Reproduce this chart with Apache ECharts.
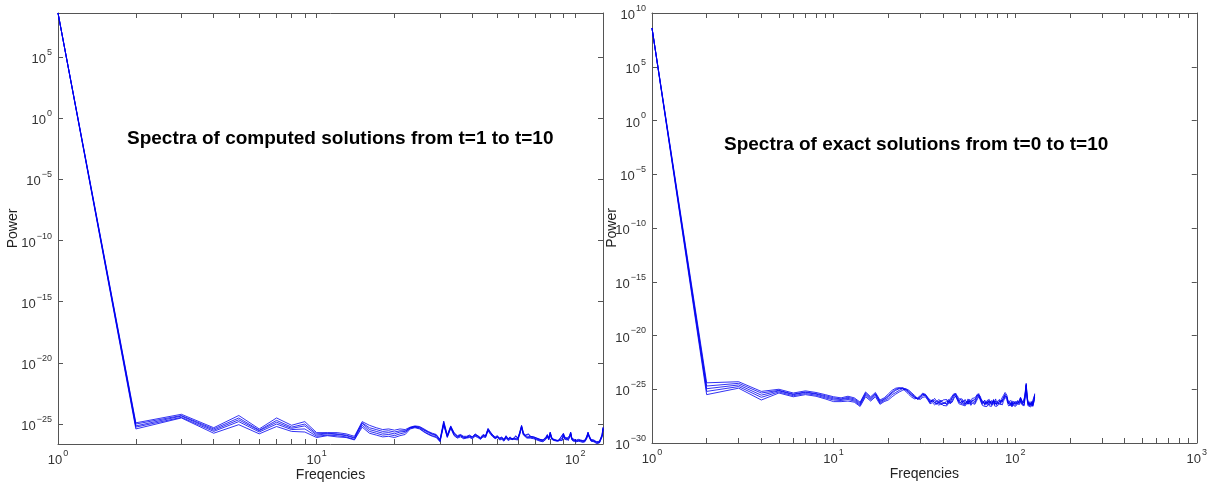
<!DOCTYPE html>
<html><head><meta charset="utf-8">
<script src="https://cdn.jsdelivr.net/npm/echarts@6/dist/echarts.min.js"></script>
<style>html,body{margin:0;padding:0;background:#fff}#c{width:1210px;height:487px}</style>
</head><body><div id="c"></div>
<script>
// Frequencies 1..128 (index of the spectrum)
const frequencies = Array.from({length: 128}, (_, i) => i + 1);

// Left panel: log10(Power) of computed solutions (a few of the t=1..10 curves)
const computedA = [
8.6, -24.9, -24.2, -25.3, -24.3, -25.4, -24.5, -25.1, -24.8, -25.7,
-25.7, -25.7, -25.8, -26.0, -24.8, -25.1, -25.3, -25.45, -25.4, -25.5,
-25.4, -25.45, -25.25, -25.15, -25.2, -25.4, -25.6, -25.75, -25.85, -26.25,
-24.75, -25.9, -25.15, -25.7, -25.95, -25.85, -26.0, -26.0, -25.9, -26.05,
-25.8, -25.95, -26.1, -25.85, -25.95, -25.35, -25.65, -25.9, -26.05, -25.95,
-26.15, -26.05, -26.25, -25.95, -26.2, -26.05, -26.25, -26.1, -25.95, -26.15,
-25.65, -25.1, -25.7, -25.9, -25.95, -25.8, -26.0, -25.95, -26.05, -25.9,
-26.15, -26.05, -26.25, -26.15, -26.3, -26.35, -26.05, -25.85, -26.15, -25.65,
-26.05, -26.25, -26.15, -26.3, -26.25, -26.35, -26.2, -26.05, -26.15, -25.75,
-26.05, -25.95, -26.15, -26.25, -25.95, -25.65, -26.15, -26.3, -26.25, -26.35,
-26.3, -26.4, -26.25, -26.35, -26.3, -26.25, -26.35, -26.4, -26.3, -26.15,
-25.95, -25.65, -25.9, -26.05, -26.25, -26.35, -26.4, -26.3, -26.35, -26.4,
-26.45, -26.35, -26.45, -26.4, -26.45, -26.35, -25.85, -25.25];
const computedB = [
8.6, -25.0, -24.3, -25.4, -24.5, -25.5, -24.7, -25.25, -25.0, -25.8,
-25.75, -25.8, -25.9, -26.1, -24.9, -25.3, -25.45, -25.6, -25.55, -25.65,
-25.55, -25.55, -25.3, -25.2, -25.25, -25.45, -25.65, -25.8, -25.9, -26.3,
-24.95, -26.0, -25.25, -25.75, -26.05, -25.95, -26.05, -26.1, -26.0, -26.05,
-25.9, -25.95, -26.2, -25.95, -25.95, -25.45, -25.75, -25.9, -26.15, -26.05,
-26.15, -26.15, -26.25, -26.05, -26.2, -26.15, -26.25, -26.2, -26.05, -26.15,
-25.75, -25.2, -25.8, -25.9, -26.05, -25.9, -26.0, -26.05, -26.05, -26.0,
-26.15, -26.15, -26.25, -26.25, -26.3, -26.35, -26.15, -25.95, -26.15, -25.75,
-26.15, -26.25, -26.25, -26.3, -26.35, -26.35, -26.3, -26.15, -26.15, -25.85,
-26.15, -26.05, -26.15, -26.35, -26.05, -25.75, -26.15, -26.4, -26.25, -26.35,
-26.4, -26.4, -26.35, -26.35, -26.4, -26.35, -26.35, -26.4, -26.4, -26.25,
-25.95, -25.75, -26.0, -26.05, -26.35, -26.35, -26.4, -26.4, -26.35, -26.5,
-26.45, -26.45, -26.45, -26.5, -26.45, -26.45, -25.95, -25.35];
const computedC = [
8.6, -25.15, -24.35, -25.5, -24.65, -25.55, -24.85, -25.35, -25.15, -25.9,
-25.8, -25.85, -25.95, -26.15, -24.95, -25.45, -25.6, -25.75, -25.7, -25.8,
-25.65, -25.6, -25.3, -25.2, -25.3, -25.5, -25.7, -25.85, -25.95, -26.35,
-24.85, -25.95, -25.2, -25.8, -26.0, -25.9, -26.1, -26.05, -25.95, -26.1,
-25.85, -26.0, -26.15, -25.9, -26.0, -25.4, -25.7, -25.95, -26.1, -26.0,
-26.2, -26.1, -26.3, -26.0, -26.25, -26.1, -26.3, -26.15, -26.0, -26.2,
-25.7, -25.15, -25.75, -25.95, -26.0, -25.85, -26.05, -26.0, -26.1, -25.95,
-26.2, -26.1, -26.3, -26.2, -26.35, -26.4, -26.1, -25.9, -26.2, -25.7,
-26.1, -26.3, -26.2, -26.35, -26.3, -26.4, -26.25, -26.1, -26.2, -25.8,
-26.1, -26.0, -26.2, -26.3, -26.0, -25.7, -26.2, -26.35, -26.3, -26.4,
-26.35, -26.45, -26.3, -26.4, -26.35, -26.3, -26.4, -26.45, -26.35, -26.2,
-26.0, -25.7, -25.95, -26.1, -26.3, -26.4, -26.45, -26.35, -26.4, -26.45,
-26.5, -26.4, -26.5, -26.45, -26.5, -26.4, -25.9, -25.3];
const computedD = [
8.6, -25.25, -24.45, -25.6, -24.8, -25.65, -25.0, -25.45, -25.4, -26.0,
-25.9, -25.95, -26.05, -26.25, -25.1, -25.6, -25.75, -25.9, -25.85, -25.95,
-25.8, -25.7, -25.35, -25.25, -25.35, -25.6, -25.8, -25.95, -26.05, -26.4,
-25.0, -26.05, -25.3, -25.9, -26.1, -25.95, -26.15, -26.1, -26.05, -26.15,
-25.95, -26.05, -26.2, -26.0, -26.05, -25.5, -25.75, -26.0, -26.15, -26.05,
-26.25, -26.2, -26.35, -26.1, -26.3, -26.2, -26.35, -26.2, -26.1, -26.25,
-25.8, -25.25, -25.85, -26.0, -26.1, -25.95, -26.1, -26.1, -26.15, -26.05,
-26.25, -26.2, -26.35, -26.3, -26.4, -26.45, -26.2, -26.0, -26.25, -25.8,
-26.2, -26.35, -26.3, -26.4, -26.35, -26.45, -26.3, -26.2, -26.3, -25.9,
-26.2, -26.1, -26.25, -26.35, -26.1, -25.8, -26.25, -26.4, -26.35, -26.45,
-26.4, -26.5, -26.35, -26.45, -26.4, -26.35, -26.45, -26.5, -26.4, -26.3,
-26.1, -25.8, -26.0, -26.15, -26.35, -26.45, -26.5, -26.4, -26.45, -26.5,
-26.55, -26.45, -26.55, -26.5, -26.55, -26.45, -26.0, -25.4];
const computedE = [
8.6, -25.4, -24.5, -25.75, -25.05, -25.8, -25.2, -25.6, -25.65, -26.1,
-25.95, -26.05, -26.1, -26.3, -25.25, -25.75, -25.9, -26.05, -26.0, -26.1,
-25.95, -25.85, -25.4, -25.3, -25.4, -25.65, -25.85, -26.0, -26.1, -26.45,
-25.1, -26.1, -25.35, -25.95, -26.15, -26.05, -26.2, -26.15, -26.1, -26.2,
-26.0, -26.1, -26.25, -26.05, -26.1, -25.55, -25.85, -26.05, -26.2, -26.1,
-26.3, -26.25, -26.4, -26.15, -26.35, -26.25, -26.4, -26.25, -26.15, -26.3,
-25.85, -25.3, -25.9, -26.05, -26.15, -26.0, -26.15, -26.15, -26.2, -26.1,
-26.3, -26.25, -26.4, -26.35, -26.45, -26.5, -26.25, -26.05, -26.3, -25.85,
-26.25, -26.4, -26.35, -26.45, -26.4, -26.5, -26.35, -26.25, -26.35, -25.95,
-26.25, -26.15, -26.3, -26.4, -26.15, -25.85, -26.3, -26.45, -26.4, -26.5,
-26.45, -26.55, -26.4, -26.5, -26.45, -26.4, -26.5, -26.55, -26.45, -26.35,
-26.15, -25.85, -26.05, -26.2, -26.4, -26.5, -26.55, -26.45, -26.5, -26.55,
-26.6, -26.5, -26.6, -26.55, -26.6, -26.5, -26.05, -25.45];

// Right panel: log10(Power) of exact solutions (a few of the t=0..10 curves)
const exactA = [
8.6, -24.4, -24.3, -25.2, -25.0, -25.35, -25.15, -25.3, -25.5, -25.7,
-25.8, -25.65, -25.8, -26.2, -25.25, -25.7, -25.3, -26.0, -25.8, -25.45,
-25.1, -24.9, -24.85, -24.95, -25.2, -25.5, -25.75, -25.9, -25.8, -25.6,
-25.35, -25.5, -25.75, -26.0, -26.1, -25.85, -26.15, -25.95, -26.2, -26.0,
-26.15, -25.95, -26.15, -25.85, -25.7, -25.4, -25.3, -25.6, -25.9, -26.05,
-25.9, -26.2, -25.95, -26.25, -25.9, -26.15, -26.05, -25.85, -26.0, -25.8,
-25.65, -25.45, -25.35, -25.6, -25.9, -26.0, -26.25, -26.0, -26.3, -26.05,
-26.2, -25.95, -26.3, -26.05, -26.25, -26.0, -26.2, -25.9, -26.2, -26.05,
-26.15, -25.95, -26.2, -25.9, -25.75, -25.6, -25.45, -25.3, -25.25, -25.55,
-25.95, -26.15, -26.0, -26.25, -26.05, -26.3, -26.1, -26.25, -26.05, -26.3,
-26.1, -26.3, -26.05, -26.25, -26.15, -25.95, -25.75, -25.85, -26.05, -26.25,
-26.1, -26.2, -25.65, -25.0, -24.45, -25.3, -25.9, -26.2, -26.3, -26.15,
-26.3, -26.2, -26.35, -26.05, -26.25, -26.35, -25.95, -25.4];
const exactB = [
8.6, -24.7, -24.45, -25.35, -25.1, -25.45, -25.25, -25.4, -25.6, -25.8,
-25.9, -25.75, -25.9, -26.3, -25.35, -25.8, -25.4, -26.1, -25.9, -25.6,
-25.25, -25.0, -24.9, -24.85, -25.0, -25.3, -25.55, -25.75, -25.85, -25.7,
-25.5, -25.45, -25.8, -26.1, -26.15, -26.05, -26.35, -26.1, -26.3, -26.2,
-26.3, -26.05, -26.3, -26.0, -25.9, -25.5, -25.45, -25.85, -26.0, -26.25,
-26.05, -26.35, -26.2, -26.3, -26.05, -26.3, -26.15, -26.05, -26.2, -25.95,
-25.75, -25.55, -25.5, -25.8, -26.0, -26.2, -26.15, -26.3, -26.2, -26.4,
-26.1, -26.25, -26.2, -26.3, -26.3, -26.05, -26.35, -26.2, -26.3, -26.25,
-26.4, -26.15, -26.25, -26.1, -26.0, -25.8, -25.6, -25.55, -25.45, -25.7,
-26.05, -26.25, -26.3, -26.25, -26.4, -26.3, -26.35, -26.3, -26.3, -26.3,
-26.35, -26.35, -26.3, -26.3, -26.1, -26.1, -25.8, -25.95, -26.15, -26.3,
-26.3, -26.25, -25.75, -25.2, -24.6, -25.45, -26.0, -26.3, -26.35, -26.35,
-26.35, -26.35, -26.4, -26.2, -26.35, -26.3, -26.05, -25.55];
const exactC = [
8.6, -24.95, -24.6, -25.55, -25.15, -25.5, -25.3, -25.45, -25.7, -25.9,
-25.95, -25.85, -26.0, -26.4, -25.45, -25.9, -25.45, -26.2, -25.95, -25.7,
-25.35, -25.1, -24.95, -24.9, -25.1, -25.35, -25.6, -25.8, -25.9, -25.75,
-25.45, -25.6, -25.9, -26.2, -25.95, -26.3, -26.05, -26.35, -26.0, -26.25,
-26.1, -26.35, -25.95, -26.2, -25.8, -25.55, -25.35, -25.75, -26.1, -25.9,
-26.3, -26.05, -26.35, -26.1, -26.3, -25.95, -26.25, -26.0, -25.85, -26.15,
-25.8, -25.6, -25.4, -25.75, -26.05, -26.3, -26.1, -26.4, -26.15, -26.35,
-26.05, -26.3, -26.1, -26.4, -26.2, -25.95, -26.3, -26.1, -26.4, -26.15,
-26.35, -26.05, -26.3, -26.0, -26.2, -25.85, -25.7, -25.45, -25.35, -25.75,
-26.1, -26.35, -26.15, -26.4, -26.2, -26.45, -26.2, -26.4, -26.15, -26.4,
-26.25, -26.45, -26.2, -26.35, -26.05, -26.2, -25.85, -26.0, -26.2, -26.4,
-26.2, -26.35, -25.8, -25.1, -24.55, -25.5, -26.05, -26.4, -26.2, -26.45,
-26.25, -26.45, -26.3, -26.1, -26.45, -26.2, -25.9, -25.5];
const exactD = [
8.6, -25.2, -24.75, -25.75, -25.25, -25.6, -25.4, -25.55, -25.8, -26.0,
-26.05, -25.95, -26.1, -26.5, -25.55, -26.0, -25.55, -26.3, -26.05, -25.85,
-25.5, -25.3, -25.1, -24.95, -25.0, -25.2, -25.45, -25.7, -25.95, -25.85,
-25.6, -25.55, -25.85, -26.3, -26.05, -26.25, -26.4, -26.2, -26.45, -26.3,
-26.25, -26.45, -26.1, -26.35, -26.05, -25.7, -25.5, -25.9, -26.2, -26.15,
-26.35, -26.25, -26.45, -26.2, -26.4, -26.1, -26.4, -26.15, -26.05, -26.3,
-26.0, -25.75, -25.55, -25.85, -26.15, -26.4, -26.2, -26.5, -26.3, -26.45,
-26.2, -26.45, -26.2, -26.5, -26.35, -26.1, -26.45, -26.25, -26.5, -26.3,
-26.45, -26.2, -26.4, -26.15, -26.3, -26.0, -25.85, -25.6, -25.5, -25.85,
-26.25, -26.4, -26.3, -26.5, -26.3, -26.55, -26.35, -26.5, -26.3, -26.5,
-26.35, -26.55, -26.3, -26.45, -26.2, -26.3, -25.95, -26.1, -26.35, -26.5,
-26.35, -26.45, -25.9, -25.3, -24.7, -25.6, -26.15, -26.5, -26.3, -26.55,
-26.35, -26.55, -26.4, -26.2, -26.55, -26.3, -26.0, -25.6];
const exactE = [
8.6, -25.5, -24.9, -26.0, -25.35, -25.7, -25.5, -25.65, -25.9, -26.15,
-26.15, -26.1, -26.2, -26.6, -25.7, -26.1, -25.7, -26.4, -26.15, -26.0,
-25.7, -25.45, -25.25, -25.1, -24.95, -25.1, -25.35, -25.6, -25.85, -25.95,
-25.75, -25.7, -26.0, -26.35, -26.25, -26.45, -26.3, -26.5, -26.3, -26.5,
-26.4, -26.55, -26.3, -26.45, -26.2, -25.85, -25.65, -26.0, -26.35, -26.3,
-26.45, -26.4, -26.55, -26.35, -26.5, -26.3, -26.5, -26.3, -26.2, -26.4,
-26.15, -25.9, -25.7, -25.95, -26.25, -26.5, -26.4, -26.6, -26.45, -26.6,
-26.35, -26.55, -26.4, -26.6, -26.45, -26.25, -26.55, -26.4, -26.6, -26.45,
-26.6, -26.35, -26.5, -26.3, -26.45, -26.15, -26.0, -25.75, -25.65, -25.95,
-26.35, -26.55, -26.45, -26.6, -26.45, -26.65, -26.45, -26.6, -26.45, -26.6,
-26.5, -26.65, -26.4, -26.55, -26.35, -26.4, -26.1, -26.2, -26.45, -26.6,
-26.45, -26.55, -26.0, -25.4, -24.85, -25.7, -26.25, -26.55, -26.45, -26.65,
-26.5, -26.65, -26.5, -26.35, -26.6, -26.45, -26.15, -25.75];

// Tick labels (exponents of ten)
const leftXTickExp = [0, 1, 2];
const rightXTickExp = [0, 1, 2, 3];
const leftYTickExp = [-25, -20, -15, -10, -5, 0, 5];
const rightYTickExp = [-30, -25, -20, -15, -10, -5, 0, 5, 10];
const minorMultipliers = [2, 3, 4, 5, 6, 7, 8, 9];

const leftTitle = 'Spectra of computed solutions from t=1 to t=10';
const rightTitle = 'Spectra of exact solutions from t=0 to t=10';
const xName = 'Freqencies';
const yName = 'Power';

// ---------------------------------------------------------------
const FONT = '"Liberation Sans", Arial, Helvetica, sans-serif';
const AXC = '#555555';
const TXC = '#333333';

function logTicks(maxExp) {
  const t = [];
  for (let e = 0; e <= Math.ceil(maxExp); e++) {
    const base = Math.pow(10, e);
    if (e <= maxExp + 1e-9) t.push(e);
    minorMultipliers.forEach(m => {
      const v = Math.log10(m * base);
      if (v <= maxExp + 1e-9) t.push(v);
    });
  }
  return t;
}
function expLabel(v) {
  const e = Math.round(v);
  const s = e < 0 ? '\u2212' + (-e) : String(e);
  return '{b|10}{e|' + s + '}';
}
const rich = {
  b: {fontFamily: FONT, fontSize: 13, color: TXC, lineHeight: 18, verticalAlign: 'bottom'},
  e: {fontFamily: FONT, fontSize: 9, color: TXC, lineHeight: 18, verticalAlign: 'top', padding: [0, 0, 0, 1]}
};

function makeAxes(gi, xMax, xTickExp, yMin, yMax, yTickExp, yNameGap) {
  const xt = logTicks(xMax);
  const common = {
    type: 'value', gridIndex: gi, splitLine: {show: false},
    axisLine: {show: true, onZero: false, lineStyle: {color: AXC, width: 1}},
  };
  const xa = [
    Object.assign({}, common, {
      position: 'bottom', min: 0, max: xMax,
      name: xName, nameLocation: 'middle', nameGap: 24, nameMoveOverlap: false,
      nameTextStyle: {fontFamily: FONT, fontSize: 14, color: '#222'},
      axisTick: {show: true, inside: true, length: 5, customValues: xt, lineStyle: {color: AXC}},
      axisLabel: {show: true, customValues: xTickExp, formatter: expLabel, rich: rich, margin: 5}
    }),
    Object.assign({}, common, {
      position: 'top', min: 0, max: xMax,
      axisTick: {show: true, inside: true, length: 5, customValues: xt, lineStyle: {color: AXC}},
      axisLabel: {show: false}
    })
  ];
  const ya = [
    Object.assign({}, common, {
      position: 'left', min: yMin, max: yMax,
      name: yName, nameLocation: 'middle', nameGap: yNameGap, nameRotate: 90, nameMoveOverlap: false,
      nameTextStyle: {fontFamily: FONT, fontSize: 14, color: '#222'},
      axisTick: {show: true, inside: true, length: 5, customValues: yTickExp, lineStyle: {color: AXC}},
      axisLabel: {show: true, customValues: yTickExp, formatter: expLabel, rich: rich, margin: 6}
    }),
    Object.assign({}, common, {
      position: 'right', min: yMin, max: yMax,
      axisTick: {show: true, inside: true, length: 5, customValues: yTickExp, lineStyle: {color: AXC}},
      axisLabel: {show: false}
    })
  ];
  return {xa, ya};
}

const leftXMax = Math.log10(frequencies[frequencies.length - 1]);
const L = makeAxes(0, leftXMax, leftXTickExp, -26.63, 8.6, leftYTickExp, 38);
const R = makeAxes(1, 3, rightXTickExp, -30, 10, rightYTickExp, 33);

function lineSeries(arr, xi, yi) {
  return {
    type: 'line', xAxisIndex: xi, yAxisIndex: yi, showSymbol: false, symbol: 'none',
    silent: true, animation: false,
    lineStyle: {color: 'rgba(0,0,240,0.8)', width: 1},
    data: arr.map((v, i) => [Math.log10(frequencies[i]), v])
  };
}

const series = [];
[computedA, computedB, computedC, computedD, computedE].forEach(a => series.push(lineSeries(a, 0, 0)));
[exactA, exactB, exactC, exactD, exactE].forEach(a => series.push(lineSeries(a, 2, 2)));

const chart = echarts.init(document.getElementById('c'), null, {renderer: 'canvas'});
chart.setOption({
  animation: false,
  backgroundColor: '#ffffff',
  grid: [
    {left: 58, top: 13, width: 545, height: 431, containLabel: false},
    {left: 652, top: 13, width: 545, height: 430, containLabel: false}
  ],
  xAxis: [L.xa[0], L.xa[1], R.xa[0], R.xa[1]],
  yAxis: [L.ya[0], L.ya[1], R.ya[0], R.ya[1]],
  graphic: [
    {type: 'text', left: 127, top: 129, style: {text: leftTitle, font: 'bold 19px ' + FONT, fill: '#000'}},
    {type: 'text', left: 724, top: 135, style: {text: rightTitle, font: 'bold 19px ' + FONT, fill: '#000'}}
  ],
  series: series
});
</script></body></html>
